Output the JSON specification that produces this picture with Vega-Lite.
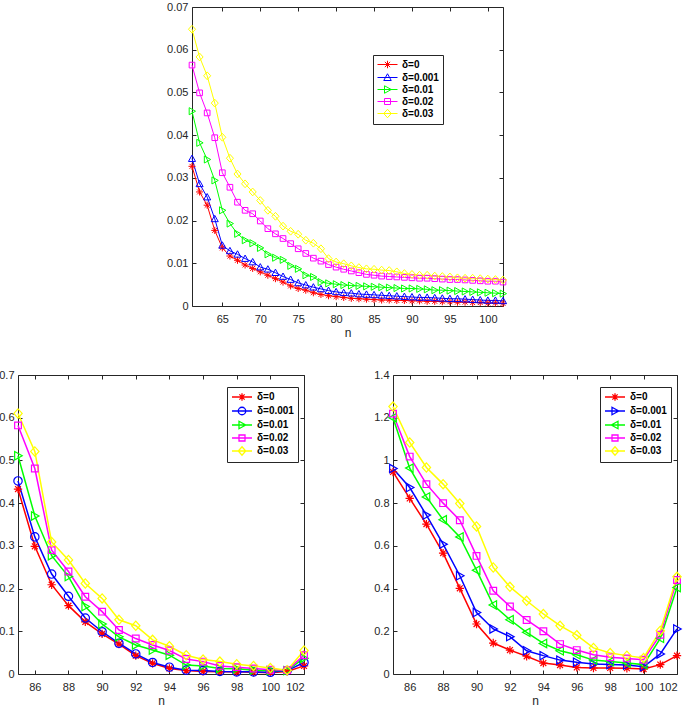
{
"$schema": "https://vega.github.io/schema/vega-lite/v6.json",
"padding": {"left": -2, "top": 0, "right": 0, "bottom": 0},
"background": "white",
"config": {
 "font": "Liberation Sans",
 "view": {"stroke": "#262626", "strokeWidth": 1},
 "axis": {"domain": false, "grid": false, "ticks": true, "tickSize": -4, "tickColor": "#262626", "labelFont": "Liberation Sans", "labelFontSize": 11, "labelColor": "#262626", "titleFont": "Liberation Sans", "titleFontSize": 12, "titleFontWeight": "normal", "titleColor": "#262626"},
 "axisX": {"labelPadding": 11, "titlePadding": 3},
 "axisY": {"labelPadding": 8},
 "legend": {"labelFont": "Liberation Sans", "labelFontWeight": "bold", "labelFontSize": 10, "labelColor": "black", "padding": 4, "symbolSize": 100, "symbolStrokeWidth": 1, "rowPadding": 0, "labelOffset": 14, "orient": "none", "title": null}
},
"datasets": {
"top": [
{"n":61,"s":"δ=0","v":0.0327},{"n":61,"s":"δ=0.001","v":0.0345},{"n":61,"s":"δ=0.01","v":0.0456},{"n":61,"s":"δ=0.02","v":0.0564},{"n":61,"s":"δ=0.03","v":0.0648},
{"n":62,"s":"δ=0","v":0.0267},{"n":62,"s":"δ=0.001","v":0.0286},{"n":62,"s":"δ=0.01","v":0.0382},{"n":62,"s":"δ=0.02","v":0.0499},{"n":62,"s":"δ=0.03","v":0.0583},
{"n":63,"s":"δ=0","v":0.0236},{"n":63,"s":"δ=0.001","v":0.0255},{"n":63,"s":"δ=0.01","v":0.0343},{"n":63,"s":"δ=0.02","v":0.0452},{"n":63,"s":"δ=0.03","v":0.0539},
{"n":64,"s":"δ=0","v":0.0177},{"n":64,"s":"δ=0.001","v":0.0204},{"n":64,"s":"δ=0.01","v":0.0294},{"n":64,"s":"δ=0.02","v":0.0394},{"n":64,"s":"δ=0.03","v":0.0475},
{"n":65,"s":"δ=0","v":0.0136},{"n":65,"s":"δ=0.001","v":0.0142},{"n":65,"s":"δ=0.01","v":0.0224},{"n":65,"s":"δ=0.02","v":0.0312},{"n":65,"s":"δ=0.03","v":0.0395},
{"n":66,"s":"δ=0","v":0.0117},{"n":66,"s":"δ=0.001","v":0.0129},{"n":66,"s":"δ=0.01","v":0.0193},{"n":66,"s":"δ=0.02","v":0.0278},{"n":66,"s":"δ=0.03","v":0.0346},
{"n":67,"s":"δ=0","v":0.0107},{"n":67,"s":"δ=0.001","v":0.0121},{"n":67,"s":"δ=0.01","v":0.0169},{"n":67,"s":"δ=0.02","v":0.0243},{"n":67,"s":"δ=0.03","v":0.0309},
{"n":68,"s":"δ=0","v":0.0096},{"n":68,"s":"δ=0.001","v":0.0111},{"n":68,"s":"δ=0.01","v":0.0154},{"n":68,"s":"δ=0.02","v":0.0224},{"n":68,"s":"δ=0.03","v":0.0286},
{"n":69,"s":"δ=0","v":0.0088},{"n":69,"s":"δ=0.001","v":0.0103},{"n":69,"s":"δ=0.01","v":0.0147},{"n":69,"s":"δ=0.02","v":0.0216},{"n":69,"s":"δ=0.03","v":0.0267},
{"n":70,"s":"δ=0","v":0.0080},{"n":70,"s":"δ=0.001","v":0.0091},{"n":70,"s":"δ=0.01","v":0.0136},{"n":70,"s":"δ=0.02","v":0.0199},{"n":70,"s":"δ=0.03","v":0.0247},
{"n":71,"s":"δ=0","v":0.0072},{"n":71,"s":"δ=0.001","v":0.0086},{"n":71,"s":"δ=0.01","v":0.0121},{"n":71,"s":"δ=0.02","v":0.0181},{"n":71,"s":"δ=0.03","v":0.0224},
{"n":72,"s":"δ=0","v":0.0064},{"n":72,"s":"δ=0.001","v":0.0078},{"n":72,"s":"δ=0.01","v":0.0113},{"n":72,"s":"δ=0.02","v":0.0169},{"n":72,"s":"δ=0.03","v":0.0210},
{"n":73,"s":"δ=0","v":0.0056},{"n":73,"s":"δ=0.001","v":0.0069},{"n":73,"s":"δ=0.01","v":0.0108},{"n":73,"s":"δ=0.02","v":0.0158},{"n":73,"s":"δ=0.03","v":0.0187},
{"n":74,"s":"δ=0","v":0.0047},{"n":74,"s":"δ=0.001","v":0.0062},{"n":74,"s":"δ=0.01","v":0.0094},{"n":74,"s":"δ=0.02","v":0.0146},{"n":74,"s":"δ=0.03","v":0.0175},
{"n":75,"s":"δ=0","v":0.0041},{"n":75,"s":"δ=0.001","v":0.0054},{"n":75,"s":"δ=0.01","v":0.0087},{"n":75,"s":"δ=0.02","v":0.0134},{"n":75,"s":"δ=0.03","v":0.0168},
{"n":76,"s":"δ=0","v":0.0037},{"n":76,"s":"δ=0.001","v":0.0049},{"n":76,"s":"δ=0.01","v":0.0072},{"n":76,"s":"δ=0.02","v":0.0123},{"n":76,"s":"δ=0.03","v":0.0154},
{"n":77,"s":"δ=0","v":0.0031},{"n":77,"s":"δ=0.001","v":0.0044},{"n":77,"s":"δ=0.01","v":0.0068},{"n":77,"s":"δ=0.02","v":0.0112},{"n":77,"s":"δ=0.03","v":0.0147},
{"n":78,"s":"δ=0","v":0.0027},{"n":78,"s":"δ=0.001","v":0.0040},{"n":78,"s":"δ=0.01","v":0.0056},{"n":78,"s":"δ=0.02","v":0.0105},{"n":78,"s":"δ=0.03","v":0.0134},
{"n":79,"s":"δ=0","v":0.0024},{"n":79,"s":"δ=0.001","v":0.0036},{"n":79,"s":"δ=0.01","v":0.0053},{"n":79,"s":"δ=0.02","v":0.0097},{"n":79,"s":"δ=0.03","v":0.0111},
{"n":80,"s":"δ=0","v":0.0022},{"n":80,"s":"δ=0.001","v":0.0033},{"n":80,"s":"δ=0.01","v":0.0051},{"n":80,"s":"δ=0.02","v":0.0091},{"n":80,"s":"δ=0.03","v":0.0103},
{"n":81,"s":"δ=0","v":0.0020},{"n":81,"s":"δ=0.001","v":0.0031},{"n":81,"s":"δ=0.01","v":0.0049},{"n":81,"s":"δ=0.02","v":0.0086},{"n":81,"s":"δ=0.03","v":0.0099},
{"n":82,"s":"δ=0","v":0.0018},{"n":82,"s":"δ=0.001","v":0.0030},{"n":82,"s":"δ=0.01","v":0.0048},{"n":82,"s":"δ=0.02","v":0.0082},{"n":82,"s":"δ=0.03","v":0.0094},
{"n":83,"s":"δ=0","v":0.0017},{"n":83,"s":"δ=0.001","v":0.0028},{"n":83,"s":"δ=0.01","v":0.0047},{"n":83,"s":"δ=0.02","v":0.0078},{"n":83,"s":"δ=0.03","v":0.0090},
{"n":84,"s":"δ=0","v":0.0016},{"n":84,"s":"δ=0.001","v":0.0027},{"n":84,"s":"δ=0.01","v":0.0046},{"n":84,"s":"δ=0.02","v":0.0074},{"n":84,"s":"δ=0.03","v":0.0087},
{"n":85,"s":"δ=0","v":0.0015},{"n":85,"s":"δ=0.001","v":0.0026},{"n":85,"s":"δ=0.01","v":0.0045},{"n":85,"s":"δ=0.02","v":0.0072},{"n":85,"s":"δ=0.03","v":0.0086},
{"n":86,"s":"δ=0","v":0.0014},{"n":86,"s":"δ=0.001","v":0.0025},{"n":86,"s":"δ=0.01","v":0.0044},{"n":86,"s":"δ=0.02","v":0.0070},{"n":86,"s":"δ=0.03","v":0.0084},
{"n":87,"s":"δ=0","v":0.0014},{"n":87,"s":"δ=0.001","v":0.0024},{"n":87,"s":"δ=0.01","v":0.0043},{"n":87,"s":"δ=0.02","v":0.0069},{"n":87,"s":"δ=0.03","v":0.0083},
{"n":88,"s":"δ=0","v":0.0013},{"n":88,"s":"δ=0.001","v":0.0023},{"n":88,"s":"δ=0.01","v":0.0042},{"n":88,"s":"δ=0.02","v":0.0068},{"n":88,"s":"δ=0.03","v":0.0080},
{"n":89,"s":"δ=0","v":0.0013},{"n":89,"s":"δ=0.001","v":0.0022},{"n":89,"s":"δ=0.01","v":0.0041},{"n":89,"s":"δ=0.02","v":0.0067},{"n":89,"s":"δ=0.03","v":0.0076},
{"n":90,"s":"δ=0","v":0.0012},{"n":90,"s":"δ=0.001","v":0.0021},{"n":90,"s":"δ=0.01","v":0.0041},{"n":90,"s":"δ=0.02","v":0.0066},{"n":90,"s":"δ=0.03","v":0.0074},
{"n":91,"s":"δ=0","v":0.0012},{"n":91,"s":"δ=0.001","v":0.0020},{"n":91,"s":"δ=0.01","v":0.0040},{"n":91,"s":"δ=0.02","v":0.0065},{"n":91,"s":"δ=0.03","v":0.0072},
{"n":92,"s":"δ=0","v":0.0011},{"n":92,"s":"δ=0.001","v":0.0020},{"n":92,"s":"δ=0.01","v":0.0039},{"n":92,"s":"δ=0.02","v":0.0065},{"n":92,"s":"δ=0.03","v":0.0072},
{"n":93,"s":"δ=0","v":0.0011},{"n":93,"s":"δ=0.001","v":0.0019},{"n":93,"s":"δ=0.01","v":0.0037},{"n":93,"s":"δ=0.02","v":0.0064},{"n":93,"s":"δ=0.03","v":0.0070},
{"n":94,"s":"δ=0","v":0.0010},{"n":94,"s":"δ=0.001","v":0.0018},{"n":94,"s":"δ=0.01","v":0.0037},{"n":94,"s":"δ=0.02","v":0.0063},{"n":94,"s":"δ=0.03","v":0.0069},
{"n":95,"s":"δ=0","v":0.0010},{"n":95,"s":"δ=0.001","v":0.0017},{"n":95,"s":"δ=0.01","v":0.0036},{"n":95,"s":"δ=0.02","v":0.0062},{"n":95,"s":"δ=0.03","v":0.0068},
{"n":96,"s":"δ=0","v":0.0009},{"n":96,"s":"δ=0.001","v":0.0017},{"n":96,"s":"δ=0.01","v":0.0035},{"n":96,"s":"δ=0.02","v":0.0062},{"n":96,"s":"δ=0.03","v":0.0066},
{"n":97,"s":"δ=0","v":0.0009},{"n":97,"s":"δ=0.001","v":0.0016},{"n":97,"s":"δ=0.01","v":0.0034},{"n":97,"s":"δ=0.02","v":0.0061},{"n":97,"s":"δ=0.03","v":0.0065},
{"n":98,"s":"δ=0","v":0.0008},{"n":98,"s":"δ=0.001","v":0.0015},{"n":98,"s":"δ=0.01","v":0.0033},{"n":98,"s":"δ=0.02","v":0.0060},{"n":98,"s":"δ=0.03","v":0.0065},
{"n":99,"s":"δ=0","v":0.0008},{"n":99,"s":"δ=0.001","v":0.0014},{"n":99,"s":"δ=0.01","v":0.0032},{"n":99,"s":"δ=0.02","v":0.0059},{"n":99,"s":"δ=0.03","v":0.0064},
{"n":100,"s":"δ=0","v":0.0007},{"n":100,"s":"δ=0.001","v":0.0013},{"n":100,"s":"δ=0.01","v":0.0031},{"n":100,"s":"δ=0.02","v":0.0058},{"n":100,"s":"δ=0.03","v":0.0063},
{"n":101,"s":"δ=0","v":0.0007},{"n":101,"s":"δ=0.001","v":0.0013},{"n":101,"s":"δ=0.01","v":0.0030},{"n":101,"s":"δ=0.02","v":0.0058},{"n":101,"s":"δ=0.03","v":0.0062},
{"n":102,"s":"δ=0","v":0.0006},{"n":102,"s":"δ=0.001","v":0.0012},{"n":102,"s":"δ=0.01","v":0.0029},{"n":102,"s":"δ=0.02","v":0.0056},{"n":102,"s":"δ=0.03","v":0.0061}
],
"bl": [
{"n":85,"s":"δ=0","v":0.433},{"n":85,"s":"δ=0.001","v":0.452},{"n":85,"s":"δ=0.01","v":0.511},{"n":85,"s":"δ=0.02","v":0.582},{"n":85,"s":"δ=0.03","v":0.610},
{"n":86,"s":"δ=0","v":0.299},{"n":86,"s":"δ=0.001","v":0.321},{"n":86,"s":"δ=0.01","v":0.370},{"n":86,"s":"δ=0.02","v":0.481},{"n":86,"s":"δ=0.03","v":0.521},
{"n":87,"s":"δ=0","v":0.209},{"n":87,"s":"δ=0.001","v":0.234},{"n":87,"s":"δ=0.01","v":0.277},{"n":87,"s":"δ=0.02","v":0.290},{"n":87,"s":"δ=0.03","v":0.309},
{"n":88,"s":"δ=0","v":0.160},{"n":88,"s":"δ=0.001","v":0.182},{"n":88,"s":"δ=0.01","v":0.228},{"n":88,"s":"δ=0.02","v":0.240},{"n":88,"s":"δ=0.03","v":0.267},
{"n":89,"s":"δ=0","v":0.122},{"n":89,"s":"δ=0.001","v":0.131},{"n":89,"s":"δ=0.01","v":0.158},{"n":89,"s":"δ=0.02","v":0.181},{"n":89,"s":"δ=0.03","v":0.212},
{"n":90,"s":"δ=0","v":0.094},{"n":90,"s":"δ=0.001","v":0.099},{"n":90,"s":"δ=0.01","v":0.117},{"n":90,"s":"δ=0.02","v":0.146},{"n":90,"s":"δ=0.03","v":0.177},
{"n":91,"s":"δ=0","v":0.070},{"n":91,"s":"δ=0.001","v":0.072},{"n":91,"s":"δ=0.01","v":0.087},{"n":91,"s":"δ=0.02","v":0.103},{"n":91,"s":"δ=0.03","v":0.127},
{"n":92,"s":"δ=0","v":0.043},{"n":92,"s":"δ=0.001","v":0.047},{"n":92,"s":"δ=0.01","v":0.068},{"n":92,"s":"δ=0.02","v":0.083},{"n":92,"s":"δ=0.03","v":0.113},
{"n":93,"s":"δ=0","v":0.025},{"n":93,"s":"δ=0.001","v":0.027},{"n":93,"s":"δ=0.01","v":0.056},{"n":93,"s":"δ=0.02","v":0.068},{"n":93,"s":"δ=0.03","v":0.080},
{"n":94,"s":"δ=0","v":0.013},{"n":94,"s":"δ=0.001","v":0.016},{"n":94,"s":"δ=0.01","v":0.044},{"n":94,"s":"δ=0.02","v":0.055},{"n":94,"s":"δ=0.03","v":0.065},
{"n":95,"s":"δ=0","v":0.008},{"n":95,"s":"δ=0.001","v":0.009},{"n":95,"s":"δ=0.01","v":0.021},{"n":95,"s":"δ=0.02","v":0.035},{"n":95,"s":"δ=0.03","v":0.044},
{"n":96,"s":"δ=0","v":0.006},{"n":96,"s":"δ=0.001","v":0.008},{"n":96,"s":"δ=0.01","v":0.019},{"n":96,"s":"δ=0.02","v":0.029},{"n":96,"s":"δ=0.03","v":0.034},
{"n":97,"s":"δ=0","v":0.005},{"n":97,"s":"δ=0.001","v":0.006},{"n":97,"s":"δ=0.01","v":0.013},{"n":97,"s":"δ=0.02","v":0.019},{"n":97,"s":"δ=0.03","v":0.029},
{"n":98,"s":"δ=0","v":0.005},{"n":98,"s":"δ=0.001","v":0.005},{"n":98,"s":"δ=0.01","v":0.012},{"n":98,"s":"δ=0.02","v":0.016},{"n":98,"s":"δ=0.03","v":0.023},
{"n":99,"s":"δ=0","v":0.004},{"n":99,"s":"δ=0.001","v":0.005},{"n":99,"s":"δ=0.01","v":0.009},{"n":99,"s":"δ=0.02","v":0.013},{"n":99,"s":"δ=0.03","v":0.019},
{"n":100,"s":"δ=0","v":0.003},{"n":100,"s":"δ=0.001","v":0.004},{"n":100,"s":"δ=0.01","v":0.008},{"n":100,"s":"δ=0.02","v":0.010},{"n":100,"s":"δ=0.03","v":0.014},
{"n":101,"s":"δ=0","v":0.006},{"n":101,"s":"δ=0.001","v":0.008},{"n":101,"s":"δ=0.01","v":0.008},{"n":101,"s":"δ=0.02","v":0.009},{"n":101,"s":"δ=0.03","v":0.009},
{"n":102,"s":"δ=0","v":0.019},{"n":102,"s":"δ=0.001","v":0.027},{"n":102,"s":"δ=0.01","v":0.037},{"n":102,"s":"δ=0.02","v":0.044},{"n":102,"s":"δ=0.03","v":0.055}
],
"br": [
{"n":85,"s":"δ=0","v":0.946},{"n":85,"s":"δ=0.001","v":0.962},{"n":85,"s":"δ=0.01","v":1.200},{"n":85,"s":"δ=0.02","v":1.219},{"n":85,"s":"δ=0.03","v":1.252},
{"n":86,"s":"δ=0","v":0.822},{"n":86,"s":"δ=0.001","v":0.873},{"n":86,"s":"δ=0.01","v":0.964},{"n":86,"s":"δ=0.02","v":1.018},{"n":86,"s":"δ=0.03","v":1.084},
{"n":87,"s":"δ=0","v":0.702},{"n":87,"s":"δ=0.001","v":0.744},{"n":87,"s":"δ=0.01","v":0.829},{"n":87,"s":"δ=0.02","v":0.889},{"n":87,"s":"δ=0.03","v":0.967},
{"n":88,"s":"δ=0","v":0.566},{"n":88,"s":"δ=0.001","v":0.608},{"n":88,"s":"δ=0.01","v":0.722},{"n":88,"s":"δ=0.02","v":0.800},{"n":88,"s":"δ=0.03","v":0.889},
{"n":89,"s":"δ=0","v":0.401},{"n":89,"s":"δ=0.001","v":0.460},{"n":89,"s":"δ=0.01","v":0.642},{"n":89,"s":"δ=0.02","v":0.720},{"n":89,"s":"δ=0.03","v":0.798},
{"n":90,"s":"δ=0","v":0.234},{"n":90,"s":"δ=0.001","v":0.288},{"n":90,"s":"δ=0.01","v":0.486},{"n":90,"s":"δ=0.02","v":0.553},{"n":90,"s":"δ=0.03","v":0.691},
{"n":91,"s":"δ=0","v":0.145},{"n":91,"s":"δ=0.001","v":0.211},{"n":91,"s":"δ=0.01","v":0.323},{"n":91,"s":"δ=0.02","v":0.390},{"n":91,"s":"δ=0.03","v":0.499},
{"n":92,"s":"δ=0","v":0.112},{"n":92,"s":"δ=0.001","v":0.175},{"n":92,"s":"δ=0.01","v":0.254},{"n":92,"s":"δ=0.02","v":0.316},{"n":92,"s":"δ=0.03","v":0.408},
{"n":93,"s":"δ=0","v":0.083},{"n":93,"s":"δ=0.001","v":0.109},{"n":93,"s":"δ=0.01","v":0.195},{"n":93,"s":"δ=0.02","v":0.253},{"n":93,"s":"δ=0.03","v":0.343},
{"n":94,"s":"δ=0","v":0.051},{"n":94,"s":"δ=0.001","v":0.086},{"n":94,"s":"δ=0.01","v":0.143},{"n":94,"s":"δ=0.02","v":0.200},{"n":94,"s":"δ=0.03","v":0.281},
{"n":95,"s":"δ=0","v":0.042},{"n":95,"s":"δ=0.001","v":0.065},{"n":95,"s":"δ=0.01","v":0.109},{"n":95,"s":"δ=0.02","v":0.140},{"n":95,"s":"δ=0.03","v":0.226},
{"n":96,"s":"δ=0","v":0.031},{"n":96,"s":"δ=0.001","v":0.055},{"n":96,"s":"δ=0.01","v":0.090},{"n":96,"s":"δ=0.02","v":0.112},{"n":96,"s":"δ=0.03","v":0.182},
{"n":97,"s":"δ=0","v":0.028},{"n":97,"s":"δ=0.001","v":0.047},{"n":97,"s":"δ=0.01","v":0.065},{"n":97,"s":"δ=0.02","v":0.090},{"n":97,"s":"δ=0.03","v":0.122},
{"n":98,"s":"δ=0","v":0.028},{"n":98,"s":"δ=0.001","v":0.044},{"n":98,"s":"δ=0.01","v":0.058},{"n":98,"s":"δ=0.02","v":0.078},{"n":98,"s":"δ=0.03","v":0.098},
{"n":99,"s":"δ=0","v":0.027},{"n":99,"s":"δ=0.001","v":0.042},{"n":99,"s":"δ=0.01","v":0.051},{"n":99,"s":"δ=0.02","v":0.073},{"n":99,"s":"δ=0.03","v":0.086},
{"n":100,"s":"δ=0","v":0.023},{"n":100,"s":"δ=0.001","v":0.034},{"n":100,"s":"δ=0.01","v":0.044},{"n":100,"s":"δ=0.02","v":0.067},{"n":100,"s":"δ=0.03","v":0.075},
{"n":101,"s":"δ=0","v":0.044},{"n":101,"s":"δ=0.001","v":0.094},{"n":101,"s":"δ=0.01","v":0.167},{"n":101,"s":"δ=0.02","v":0.184},{"n":101,"s":"δ=0.03","v":0.203},
{"n":102,"s":"δ=0","v":0.086},{"n":102,"s":"δ=0.001","v":0.211},{"n":102,"s":"δ=0.01","v":0.405},{"n":102,"s":"δ=0.02","v":0.440},{"n":102,"s":"δ=0.03","v":0.455}
]
},
"vconcat": [
{
 "hconcat": [
  {"width": 147, "height": 299, "data": {"values": []}, "mark": "point", "view": {"stroke": null}},
  {
   "width": 311, "height": 299,
   "data": {"name": "top"},
   "layer": [
    {"mark": {"type": "line", "strokeWidth": 1},
     "encoding": {
      "x": {"field": "n", "type": "quantitative", "scale": {"domain": [61, 102], "nice": false, "zero": false}, "axis": {"values": [65,70,75,80,85,90,95,100], "title": "n"}},
      "y": {"field": "v", "type": "quantitative", "scale": {"domain": [0, 0.07], "nice": false}, "axis": {"values": [0,0.01,0.02,0.03,0.04,0.05,0.06,0.07], "format": "~g", "title": null}},
      "color": {"field": "s", "type": "nominal", "scale": {"domain": ["δ=0","δ=0.001","δ=0.01","δ=0.02","δ=0.03"], "range": ["#FF0000","#0000FF","#00FF00","#FF00FF","#FFFF00"]}, "legend": {"legendX": 181, "legendY": 48, "strokeColor": "#262626", "fillColor": "white", "symbolOpacity": 1, "symbolSize": 100}}
     }},
    {"transform": [{"filter": "datum.s == 'δ=0'"}], "mark": {"type": "point", "filled": false, "size": 50, "strokeWidth": 1, "opacity": 1, "color": "#FF0000", "shape": "M-1,0L1,0M0,-1L0,1M-0.7,-0.7L0.7,0.7M-0.7,0.7L0.7,-0.7"}, "encoding": {"x": {"field": "n", "type": "quantitative", "axis": null}, "y": {"field": "v", "type": "quantitative", "axis": null}}},
    {"transform": [{"filter": "datum.s == 'δ=0.001'"}], "mark": {"type": "point", "filled": false, "size": 50, "strokeWidth": 1, "opacity": 1, "color": "#0000FF", "shape": "M0,-1L1,0.8L-1,0.8Z"}, "encoding": {"x": {"field": "n", "type": "quantitative", "axis": null}, "y": {"field": "v", "type": "quantitative", "axis": null}}},
    {"transform": [{"filter": "datum.s == 'δ=0.01'"}], "mark": {"type": "point", "filled": false, "size": 50, "strokeWidth": 1, "opacity": 1, "color": "#00FF00", "shape": "M-0.8,-1L1,0L-0.8,1Z"}, "encoding": {"x": {"field": "n", "type": "quantitative", "axis": null}, "y": {"field": "v", "type": "quantitative", "axis": null}}},
    {"transform": [{"filter": "datum.s == 'δ=0.02'"}], "mark": {"type": "point", "filled": false, "size": 50, "strokeWidth": 1, "opacity": 1, "color": "#FF00FF", "shape": "M-0.8,-0.8L0.8,-0.8L0.8,0.8L-0.8,0.8Z"}, "encoding": {"x": {"field": "n", "type": "quantitative", "axis": null}, "y": {"field": "v", "type": "quantitative", "axis": null}}},
    {"transform": [{"filter": "datum.s == 'δ=0.03'"}], "mark": {"type": "point", "filled": false, "size": 50, "strokeWidth": 1, "opacity": 1, "color": "#FFFF00", "shape": "M0,-1.1L1,0L0,1.1L-1,0Z"}, "encoding": {"x": {"field": "n", "type": "quantitative", "axis": null}, "y": {"field": "v", "type": "quantitative", "axis": null}}},
    {"mark": {"type": "point", "filled": false, "size": 50, "strokeWidth": 1, "opacity": 0},
     "encoding": {
      "x": {"field": "n", "type": "quantitative", "axis": {"orient": "top", "values": [65,70,75,80,85,90,95,100], "labels": false, "title": null}},
      "y": {"field": "v", "type": "quantitative", "axis": {"orient": "right", "values": [0,0.01,0.02,0.03,0.04,0.05,0.06,0.07], "labels": false, "title": null}},
      "color": {"field": "s", "type": "nominal", "scale": {"domain": ["δ=0","δ=0.001","δ=0.01","δ=0.02","δ=0.03"], "range": ["#FF0000","#0000FF","#00FF00","#FF00FF","#FFFF00"]}, "legend": {"legendX": 181, "legendY": 48, "strokeColor": "#262626", "fillColor": "white", "symbolOpacity": 1, "symbolSize": 100}},
      "shape": {"field": "s", "type": "nominal", "scale": {"domain": ["δ=0","δ=0.001","δ=0.01","δ=0.02","δ=0.03"], "range": ["M-1,0L3,0M1,-0.75L1,0.75M0.47,-0.53L1.53,0.53M0.47,0.53L1.53,-0.53","M-1,0L3,0M1,-0.75L1.75,0.6L0.25,0.6Z","M-1,0L3,0M0.4,-0.75L1.75,0L0.4,0.75Z","M-1,0L3,0M0.4,-0.6L1.6,-0.6L1.6,0.6L0.4,0.6Z","M-1,0L3,0M1,-0.85L1.75,0L1,0.85L0.25,0Z"]}, "legend": {"legendX": 181, "legendY": 48, "strokeColor": "#262626", "fillColor": "white", "symbolOpacity": 1, "symbolSize": 100}}
     }}
   ],
   "resolve": {"axis": {"x": "independent", "y": "independent"}}
  }
 ],
 "spacing": 1,
 "resolve": {"scale": {"color": "independent", "shape": "independent", "x": "independent", "y": "independent"}, "legend": {"color": "independent", "shape": "independent"}}
},
{
 "hconcat": [
  {
   "width": 286, "height": 299,
   "data": {"name": "bl"},
   "layer": [
    {"mark": {"type": "line", "strokeWidth": 1.5},
     "encoding": {
      "x": {"field": "n", "type": "quantitative", "scale": {"domain": [85, 102], "nice": false, "zero": false}, "axis": {"values": [86,88,90,92,94,96,98,100,102], "title": "n"}},
      "y": {"field": "v", "type": "quantitative", "scale": {"domain": [0, 0.7], "nice": false}, "axis": {"values": [0,0.1,0.2,0.3,0.4,0.5,0.6,0.7], "format": "~g", "title": null}},
      "color": {"field": "s", "type": "nominal", "scale": {"domain": ["δ=0","δ=0.001","δ=0.01","δ=0.02","δ=0.03"], "range": ["#FF0000","#0000FF","#00FF00","#FF00FF","#FFFF00"]}, "legend": {"legendX": 209, "legendY": 12, "strokeColor": "#262626", "fillColor": "white", "symbolOpacity": 1, "symbolSize": 100, "symbolStrokeWidth": 1.3}}
     }},
    {"transform": [{"filter": "datum.s == 'δ=0'"}], "mark": {"type": "point", "filled": false, "size": 70, "strokeWidth": 1.2, "opacity": 1, "color": "#FF0000", "shape": "M-1,0L1,0M0,-1L0,1M-0.7,-0.7L0.7,0.7M-0.7,0.7L0.7,-0.7"}, "encoding": {"x": {"field": "n", "type": "quantitative", "axis": null}, "y": {"field": "v", "type": "quantitative", "axis": null}}},
    {"transform": [{"filter": "datum.s == 'δ=0.001'"}], "mark": {"type": "point", "filled": false, "size": 70, "strokeWidth": 1.2, "opacity": 1, "color": "#0000FF", "shape": "M1,0A1,1,0,1,1,-1,0A1,1,0,1,1,1,0Z"}, "encoding": {"x": {"field": "n", "type": "quantitative", "axis": null}, "y": {"field": "v", "type": "quantitative", "axis": null}}},
    {"transform": [{"filter": "datum.s == 'δ=0.01'"}], "mark": {"type": "point", "filled": false, "size": 70, "strokeWidth": 1.2, "opacity": 1, "color": "#00FF00", "shape": "M-0.8,-1L1,0L-0.8,1Z"}, "encoding": {"x": {"field": "n", "type": "quantitative", "axis": null}, "y": {"field": "v", "type": "quantitative", "axis": null}}},
    {"transform": [{"filter": "datum.s == 'δ=0.02'"}], "mark": {"type": "point", "filled": false, "size": 70, "strokeWidth": 1.2, "opacity": 1, "color": "#FF00FF", "shape": "M-0.8,-0.8L0.8,-0.8L0.8,0.8L-0.8,0.8Z"}, "encoding": {"x": {"field": "n", "type": "quantitative", "axis": null}, "y": {"field": "v", "type": "quantitative", "axis": null}}},
    {"transform": [{"filter": "datum.s == 'δ=0.03'"}], "mark": {"type": "point", "filled": false, "size": 70, "strokeWidth": 1.2, "opacity": 1, "color": "#FFFF00", "shape": "M0,-1.1L1,0L0,1.1L-1,0Z"}, "encoding": {"x": {"field": "n", "type": "quantitative", "axis": null}, "y": {"field": "v", "type": "quantitative", "axis": null}}},
    {"mark": {"type": "point", "filled": false, "size": 70, "strokeWidth": 1.3, "opacity": 0},
     "encoding": {
      "x": {"field": "n", "type": "quantitative", "axis": {"orient": "top", "values": [86,88,90,92,94,96,98,100,102], "labels": false, "title": null}},
      "y": {"field": "v", "type": "quantitative", "axis": {"orient": "right", "values": [0,0.1,0.2,0.3,0.4,0.5,0.6,0.7], "labels": false, "title": null}},
      "color": {"field": "s", "type": "nominal", "scale": {"domain": ["δ=0","δ=0.001","δ=0.01","δ=0.02","δ=0.03"], "range": ["#FF0000","#0000FF","#00FF00","#FF00FF","#FFFF00"]}, "legend": {"legendX": 209, "legendY": 12, "strokeColor": "#262626", "fillColor": "white", "symbolOpacity": 1, "symbolSize": 100, "symbolStrokeWidth": 1.3}},
      "shape": {"field": "s", "type": "nominal", "scale": {"domain": ["δ=0","δ=0.001","δ=0.01","δ=0.02","δ=0.03"], "range": ["M-1,0L3,0M1,-0.75L1,0.75M0.47,-0.53L1.53,0.53M0.47,0.53L1.53,-0.53","M-1,0L3,0M1.75,0A0.75,0.75,0,1,1,0.25,0A0.75,0.75,0,1,1,1.75,0Z","M-1,0L3,0M0.4,-0.75L1.75,0L0.4,0.75Z","M-1,0L3,0M0.4,-0.6L1.6,-0.6L1.6,0.6L0.4,0.6Z","M-1,0L3,0M1,-0.85L1.75,0L1,0.85L0.25,0Z"]}, "legend": {"legendX": 209, "legendY": 12, "strokeColor": "#262626", "fillColor": "white", "symbolOpacity": 1, "symbolSize": 100, "symbolStrokeWidth": 1.3}}
     }}
   ],
   "resolve": {"axis": {"x": "independent", "y": "independent"}}
  },
  {
   "width": 284, "height": 299,
   "data": {"name": "br"},
   "layer": [
    {"mark": {"type": "line", "strokeWidth": 1.5},
     "encoding": {
      "x": {"field": "n", "type": "quantitative", "scale": {"domain": [85, 102], "nice": false, "zero": false}, "axis": {"values": [86,88,90,92,94,96,98,100,102], "title": "n"}},
      "y": {"field": "v", "type": "quantitative", "scale": {"domain": [0, 1.4], "nice": false}, "axis": {"values": [0,0.2,0.4,0.6,0.8,1,1.2,1.4], "format": "~g", "title": null}},
      "color": {"field": "s", "type": "nominal", "scale": {"domain": ["δ=0","δ=0.001","δ=0.01","δ=0.02","δ=0.03"], "range": ["#FF0000","#0000FF","#00FF00","#FF00FF","#FFFF00"]}, "legend": {"legendX": 207, "legendY": 12, "strokeColor": "#262626", "fillColor": "white", "symbolOpacity": 1, "symbolSize": 100, "symbolStrokeWidth": 1.3}}
     }},
    {"transform": [{"filter": "datum.s == 'δ=0'"}], "mark": {"type": "point", "filled": false, "size": 70, "strokeWidth": 1.2, "opacity": 1, "color": "#FF0000", "shape": "M-1,0L1,0M0,-1L0,1M-0.7,-0.7L0.7,0.7M-0.7,0.7L0.7,-0.7"}, "encoding": {"x": {"field": "n", "type": "quantitative", "axis": null}, "y": {"field": "v", "type": "quantitative", "axis": null}}},
    {"transform": [{"filter": "datum.s == 'δ=0.001'"}], "mark": {"type": "point", "filled": false, "size": 70, "strokeWidth": 1.2, "opacity": 1, "color": "#0000FF", "shape": "M-0.8,-1L1,0L-0.8,1Z"}, "encoding": {"x": {"field": "n", "type": "quantitative", "axis": null}, "y": {"field": "v", "type": "quantitative", "axis": null}}},
    {"transform": [{"filter": "datum.s == 'δ=0.01'"}], "mark": {"type": "point", "filled": false, "size": 70, "strokeWidth": 1.2, "opacity": 1, "color": "#00FF00", "shape": "M0.8,-1L-1,0L0.8,1Z"}, "encoding": {"x": {"field": "n", "type": "quantitative", "axis": null}, "y": {"field": "v", "type": "quantitative", "axis": null}}},
    {"transform": [{"filter": "datum.s == 'δ=0.02'"}], "mark": {"type": "point", "filled": false, "size": 70, "strokeWidth": 1.2, "opacity": 1, "color": "#FF00FF", "shape": "M-0.8,-0.8L0.8,-0.8L0.8,0.8L-0.8,0.8Z"}, "encoding": {"x": {"field": "n", "type": "quantitative", "axis": null}, "y": {"field": "v", "type": "quantitative", "axis": null}}},
    {"transform": [{"filter": "datum.s == 'δ=0.03'"}], "mark": {"type": "point", "filled": false, "size": 70, "strokeWidth": 1.2, "opacity": 1, "color": "#FFFF00", "shape": "M0,-1.1L1,0L0,1.1L-1,0Z"}, "encoding": {"x": {"field": "n", "type": "quantitative", "axis": null}, "y": {"field": "v", "type": "quantitative", "axis": null}}},
    {"mark": {"type": "point", "filled": false, "size": 70, "strokeWidth": 1.3, "opacity": 0},
     "encoding": {
      "x": {"field": "n", "type": "quantitative", "axis": {"orient": "top", "values": [86,88,90,92,94,96,98,100,102], "labels": false, "title": null}},
      "y": {"field": "v", "type": "quantitative", "axis": {"orient": "right", "values": [0,0.2,0.4,0.6,0.8,1,1.2,1.4], "labels": false, "title": null}},
      "color": {"field": "s", "type": "nominal", "scale": {"domain": ["δ=0","δ=0.001","δ=0.01","δ=0.02","δ=0.03"], "range": ["#FF0000","#0000FF","#00FF00","#FF00FF","#FFFF00"]}, "legend": {"legendX": 207, "legendY": 12, "strokeColor": "#262626", "fillColor": "white", "symbolOpacity": 1, "symbolSize": 100, "symbolStrokeWidth": 1.3}},
      "shape": {"field": "s", "type": "nominal", "scale": {"domain": ["δ=0","δ=0.001","δ=0.01","δ=0.02","δ=0.03"], "range": ["M-1,0L3,0M1,-0.75L1,0.75M0.47,-0.53L1.53,0.53M0.47,0.53L1.53,-0.53","M-1,0L3,0M0.4,-0.75L1.75,0L0.4,0.75Z","M-1,0L3,0M1.6,-0.75L0.25,0L1.6,0.75Z","M-1,0L3,0M0.4,-0.6L1.6,-0.6L1.6,0.6L0.4,0.6Z","M-1,0L3,0M1,-0.85L1.75,0L1,0.85L0.25,0Z"]}, "legend": {"legendX": 207, "legendY": 12, "strokeColor": "#262626", "fillColor": "white", "symbolOpacity": 1, "symbolSize": 100, "symbolStrokeWidth": 1.3}}
     }}
   ],
   "resolve": {"axis": {"x": "independent", "y": "independent"}}
  }
 ],
 "spacing": 55,
 "resolve": {"scale": {"color": "independent", "shape": "independent", "x": "independent", "y": "independent"}, "legend": {"color": "independent", "shape": "independent"}}
}
],
"spacing": 29,
"resolve": {"scale": {"color": "independent", "shape": "independent", "x": "independent", "y": "independent"}, "legend": {"color": "independent", "shape": "independent"}}
}
